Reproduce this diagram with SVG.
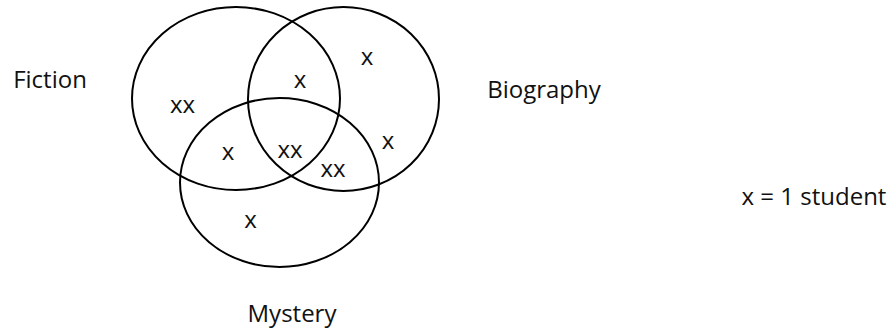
<svg xmlns="http://www.w3.org/2000/svg" width="895" height="333" viewBox="0 0 895 333">
<style>
.c{fill:none;stroke:#000;stroke-width:2}
text{font-family:"Open Sans","Noto Sans",sans-serif;font-size:24px;fill:#111;text-anchor:middle}
</style>
<rect width="895" height="333" fill="#fff"/>
<g id="fiction"><ellipse class="c" cx="236" cy="98.5" rx="104" ry="91.5"/></g>
<g id="biography"><ellipse class="c" cx="343.5" cy="99" rx="95.5" ry="92"/></g>
<g id="mystery"><ellipse class="c" cx="279.5" cy="182.5" rx="99.5" ry="84.5"/></g>
<g id="labels">
<text x="50" y="88">Fiction</text>
<text x="544" y="98">Biography</text>
<text x="292" y="322">Mystery</text>
<text x="814" y="205">x = 1 student</text>
</g>
<g id="counts">
<text x="367" y="65">x</text>
<text x="300" y="88">x</text>
<text x="182.5" y="113">xx</text>
<text x="228" y="160">x</text>
<text x="290" y="158">xx</text>
<text x="333" y="177">xx</text>
<text x="388" y="149">x</text>
<text x="250.5" y="228">x</text>
</g>
<g id="connectors"/>
</svg>
